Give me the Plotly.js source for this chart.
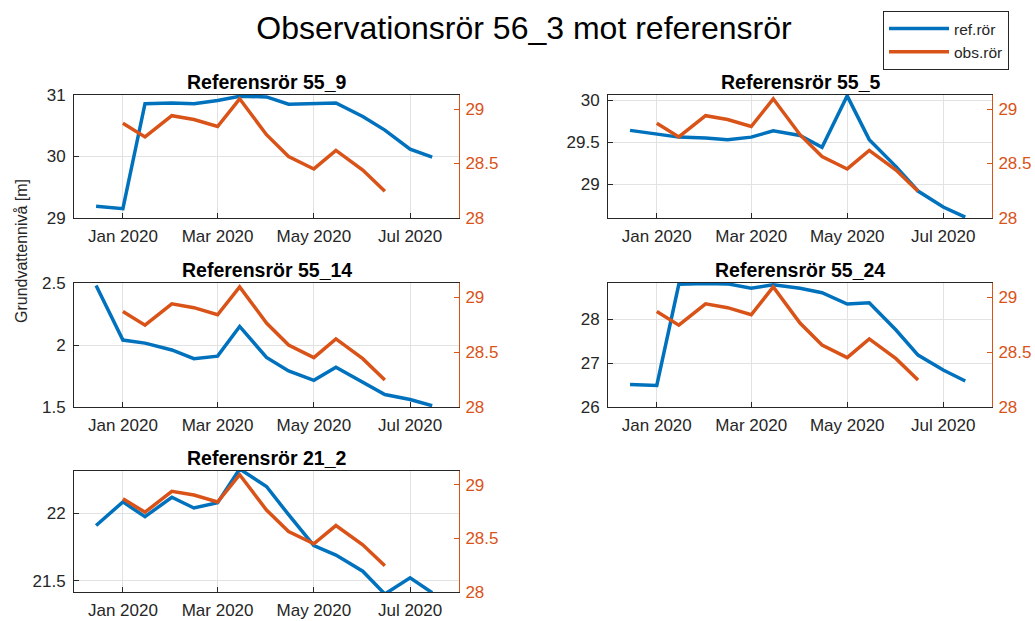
<!DOCTYPE html>
<html><head><meta charset="utf-8">
<script src="https://cdn.plot.ly/plotly-3.0.1.min.js"></script>
<style>html,body{margin:0;padding:0;background:#fff;} #chart{width:1035px;height:621px;}</style>
</head><body><div id="chart"></div>
<script>
// ---- data ----
const refDates = ['2019-12-15','2020-01-01','2020-01-15','2020-02-01','2020-02-15','2020-03-01','2020-03-15',
  '2020-04-01','2020-04-15','2020-05-01','2020-05-15','2020-06-01','2020-06-15','2020-07-01','2020-07-15'];
const obsDates = ['2020-01-01','2020-01-15','2020-02-01','2020-02-15','2020-03-01','2020-03-15',
  '2020-04-01','2020-04-15','2020-05-01','2020-05-15','2020-06-01','2020-06-15'];
const obsLevels = [28.87, 28.745, 28.94, 28.905, 28.84, 29.095, 28.765, 28.565, 28.45, 28.62, 28.44, 28.245];

const ref55_9  = [29.19, 29.15, 30.86, 30.87, 30.86, 30.91, 30.98, 30.97, 30.85, 30.86, 30.87, 30.65, 30.43, 30.12, 29.99];
const ref55_5  = [29.64, 29.60, 29.56, 29.55, 29.53, 29.56, 29.635, 29.58, 29.44, 30.05, 29.53, 29.21, 28.92, 28.73, 28.61];
const ref55_14 = [2.48, 2.04, 2.015, 1.96, 1.89, 1.91, 2.15, 1.90, 1.79, 1.715, 1.82, 1.70, 1.60, 1.56, 1.51];
const ref55_24 = [26.51, 26.49, 28.79, 28.81, 28.80, 28.70, 28.78, 28.70, 28.60, 28.34, 28.37, 27.75, 27.18, 26.84, 26.59];
const ref21_2  = [21.91, 22.085, 21.975, 22.12, 22.04, 22.08, 22.33, 22.20, 21.99, 21.76, 21.69, 21.57, 21.40, 21.52, 21.41];

const panelTitles = ['Referensrör 55_9','Referensrör 55_5','Referensrör 55_14','Referensrör 55_24','Referensrör 21_2'];
const refSeries = [ref55_9, ref55_5, ref55_14, ref55_24, ref21_2];
const leftTicks = [[29,30,31],[29,29.5,30],[1.5,2,2.5],[26,27,28],[21.5,22]];
const rightTicks = [28, 28.5, 29];
const xTickVals = ['2020-01-01','2020-03-01','2020-05-01','2020-07-01'];
const xTickText = ['Jan 2020','Mar 2020','May 2020','Jul 2020'];
const seriesNames = ['ref.rör','obs.rör'];
const mainTitle = 'Observationsrör 56_3 mot referensrör';
const yLabel = 'Grundvattennivå [m]';

// ---- layout geometry ----
const W = 1035, H = 621;
const leftRanges = [[28.999,31.001],[28.6,30.06],[1.4995,2.5005],[25.999,28.82],[21.415,22.315]];
const rightRange = [27.999, 29.13];
const xRange = ['2019-12-01','2020-08-01'];
const cols = [[74,459],[608,992]];
const rows = [[95,218],[283,407],[471,592]];
const BLUE = '#0072BD', ORANGE = '#D95319', DARK = '#262626', GRID = '#e2e2e2';
const FONT = 'Liberation Sans, Arial, Helvetica, sans-serif';

const px2x = p => p / W;
const px2y = p => 1 - p / H;

const traces = [];
const layout = {
  width: W, height: H,
  margin: {l:0, r:0, t:0, b:0},
  paper_bgcolor: '#fff', plot_bgcolor: '#fff',
  font: {family: FONT, size: 17, color: DARK},
  showlegend: true,
  legend: {
    x: px2x(883), y: px2y(11), xanchor: 'left', yanchor: 'top',
    bgcolor: '#fff', bordercolor: DARK, borderwidth: 1,
    font: {family: FONT, size: 15.5, color: DARK},
    itemwidth: 60, tracegroupgap: 0
  },
  title: {text: mainTitle, font: {family: FONT, size: 32, color: '#000'},
          x: 524/W, xanchor: 'center', xref: 'paper', y: px2y(28), yref: 'container', yanchor: 'middle'},
  annotations: [],
  shapes: []
};

refSeries.forEach((vals, i) => {
  const col = i % 2, row = Math.floor(i / 2);
  const xi = i + 1, yl = 2*i + 1, yr = 2*i + 2;
  const xName = xi === 1 ? 'xaxis' : 'xaxis' + xi;
  const ylName = yl === 1 ? 'yaxis' : 'yaxis' + yl;
  const yrName = 'yaxis' + yr;
  const xRef = xi === 1 ? 'x' : 'x' + xi;
  const ylRef = yl === 1 ? 'y' : 'y' + yl;
  const yrRef = 'y' + yr;
  const xd = [px2x(cols[col][0]), px2x(cols[col][1])];
  const yd = [px2y(rows[row][1]), px2y(rows[row][0])];

  layout[xName] = {
    domain: xd, anchor: ylRef, type: 'date', range: xRange,
    tickmode: 'array', tickvals: xTickVals, ticktext: xTickText,
    showgrid: true, gridcolor: GRID, gridwidth: 1, zeroline: false,
    ticks: 'inside', ticklen: 5, tickcolor: DARK, tickwidth: 1,
    showline: true, linecolor: DARK, linewidth: 1, mirror: true,
    tickfont: {family: FONT, size: 17, color: DARK}, ticklabelstandoff: 3
  };
  layout[ylName] = {
    domain: yd, anchor: xRef, range: leftRanges[i],
    tickmode: 'array', tickvals: leftTicks[i],
    showgrid: true, gridcolor: GRID, gridwidth: 1, zeroline: false,
    ticks: 'inside', ticklen: 5, tickcolor: DARK, tickwidth: 1,
    showline: true, linecolor: DARK, linewidth: 1,
    tickfont: {family: FONT, size: 17, color: DARK}, ticklabelstandoff: 4
  };
  layout[yrName] = {
    overlaying: ylRef, anchor: xRef, side: 'right', range: rightRange,
    tickmode: 'array', tickvals: rightTicks,
    showgrid: false, zeroline: false,
    ticks: 'inside', ticklen: 5, tickcolor: ORANGE, tickwidth: 1,
    showline: true, linecolor: ORANGE, linewidth: 1,
    tickfont: {family: FONT, size: 17, color: ORANGE}, ticklabelstandoff: 2
  };

  traces.push({
    x: refDates, y: vals, xaxis: xRef, yaxis: ylRef, type: 'scatter', mode: 'lines',
    line: {color: BLUE, width: 3.5}, name: seriesNames[0], legendgroup: 'ref', showlegend: i === 0,
    hoverinfo: 'skip'
  });
  traces.push({
    x: obsDates, y: obsLevels, xaxis: xRef, yaxis: yrRef, type: 'scatter', mode: 'lines',
    line: {color: ORANGE, width: 3.5}, name: seriesNames[1], legendgroup: 'obs', showlegend: i === 0,
    hoverinfo: 'skip'
  });

  layout.annotations.push({
    text: '<b>' + panelTitles[i] + '</b>', xref: 'paper', yref: 'paper',
    x: (xd[0] + xd[1]) / 2, y: px2y(rows[row][0] - 13), xanchor: 'center', yanchor: 'middle',
    showarrow: false, font: {family: FONT, size: 19.5, color: '#000'}
  });
});

layout.annotations.push({
  text: yLabel, xref: 'paper', yref: 'paper', x: px2x(21), y: px2y(251),
  xanchor: 'center', yanchor: 'middle', textangle: -90, showarrow: false,
  font: {family: FONT, size: 16, color: DARK}
});

Plotly.newPlot('chart', traces, layout, {displayModeBar: false, staticPlot: true});
</script>
</body></html>
